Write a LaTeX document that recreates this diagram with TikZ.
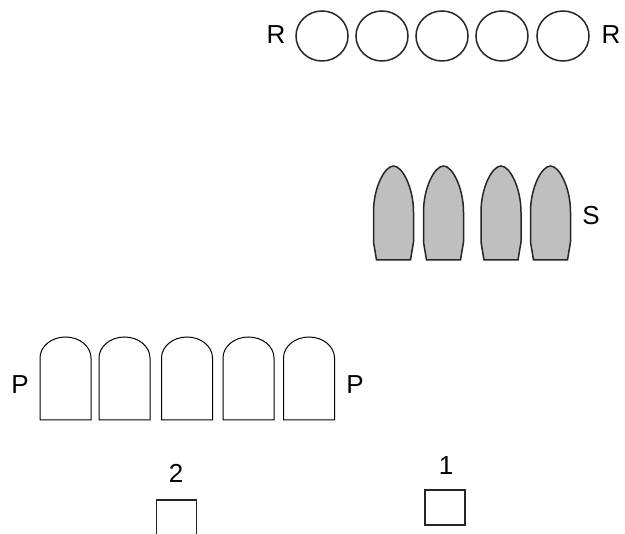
\documentclass[tikz,border=0pt]{standalone}
\usepackage{fontspec}
\setmainfont{Liberation Sans}
\usetikzlibrary{shapes.geometric}

\tikzset{
  lbl/.style={inner sep=0pt,font=\fontsize{26}{30}\selectfont},
  ring/.style={draw=black!85,line width=1.5pt,ellipse,minimum width=52pt,minimum height=50pt,inner sep=0pt},
  shell/.style={draw=black!85,line width=1.5pt,fill=black!25},
  arch/.style={draw=black,line width=1pt},
  sq/.style={draw=black!85,line width=1.3pt,minimum width=40pt,minimum height=35pt,inner sep=0pt}
}

\begin{document}
\begin{tikzpicture}[x=1pt,y=-1pt]
    \useasboundingbox (0,0) rectangle (625,534);
    % row R
    \node[ring] (r1) at (322,36) {};
    \node[ring] (r2) at (382,36) {};
    \node[ring] (r3) at (442,36) {};
    \node[ring] (r4) at (502,36) {};
    \node[ring] (r5) at (563,36) {};
    \node[lbl] (rl) at (276,35) {R};
    \node[lbl] (rr) at (611,35) {R};
    % row S
    \foreach \cx in {393.5,443.5,501,550.5}
      \draw[shell] (\cx-17,260) -- (\cx-20,242) -- (\cx-20,212)
        .. controls (\cx-20,188) and (\cx-9,166) .. (\cx,166)
        .. controls (\cx+9,166) and (\cx+20,188) .. (\cx+20,212)
        -- (\cx+20,242) -- (\cx+17,260) -- cycle;
    \node[lbl] (s) at (591,216) {S};
    % row P
    \foreach \cx in {65.5,124.5,187,248.5,309}
      \draw[arch] (\cx-25.5,420) -- (\cx-25.5,358)
        arc[start angle=180,end angle=360,x radius=25.5,y radius=21]
        -- (\cx+25.5,420) -- cycle;
    \node[lbl] (pl) at (20,385) {P};
    \node[lbl] (pr) at (355,385) {P};
    % boxes
    \node[sq] (b2) at (176.5,517.5) {};
    \node[sq] (b1) at (445,507.5) {};
    \node[lbl] (n2) at (176,473) {2};
    \node[lbl] (n1) at (446,466) {1};
\end{tikzpicture}
\end{document}
